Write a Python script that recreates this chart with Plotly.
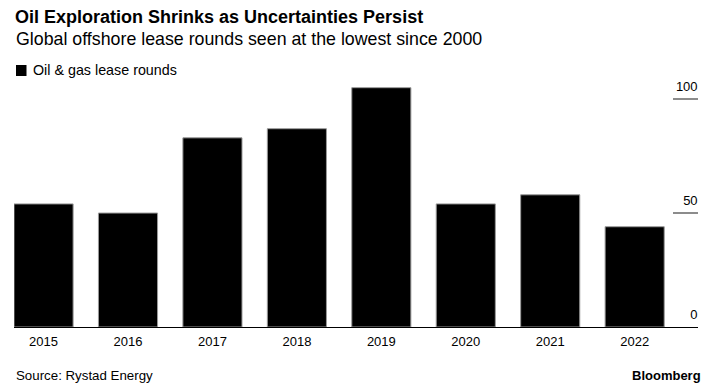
import plotly.graph_objects as go

years = ["2015", "2016", "2017", "2018", "2019", "2020", "2021", "2022"]
lease_rounds = [54, 50, 83, 87, 105, 54, 58, 44]
y_ticks = [0, 50, 100]
series_name = "Oil & gas lease rounds"

FONT = "Liberation Sans, Arial, sans-serif"

# The page body has an 8px margin; work in screen pixels and convert.
OFF = 8
W, H = 704, 376
L, R, T, B = 14 - OFF, W - (698 - OFF), 87 - OFF, H - (327 - OFF)
plot_w, plot_h = W - L - R, H - T - B


def px(sx):
    return (sx - OFF - L) / plot_w


def py(sy):
    return (H - B - (sy - OFF)) / plot_h


fig = go.Figure()
fig.add_trace(go.Bar(
    x=years, y=lease_rounds, name=series_name,
    marker=dict(color="#000000", line=dict(color="#9a9a9a", width=1)),
    width=0.70, showlegend=False,
))

fig.update_layout(
    width=W, height=H,
    margin=dict(l=L, r=R, t=T, b=B, autoexpand=False),
    paper_bgcolor="white", plot_bgcolor="white",
    font=dict(family=FONT, color="#000000", size=13),
    showlegend=False,
    xaxis=dict(
        type="category", range=[-0.35, 7.75],
        showline=True, linecolor="#000000", linewidth=1,
        ticks="", showgrid=False, zeroline=False,
        ticklabelstandoff=2,
        tickfont=dict(size=13, family=FONT, color="#000000"),
        layer="above traces",
    ),
    yaxis=dict(
        side="right", range=[0, 105.3],
        tickvals=y_ticks, ticktext=[str(v) for v in y_ticks],
        ticks="inside", ticklen=25, tickwidth=2, tickcolor="#8c8c8c",
        ticklabelposition="inside", ticklabeloverflow="allow",
        ticklabelstandoff=-25, ticklabelshift=-13,
        showgrid=False, zeroline=False, showline=False,
        tickfont=dict(size=13, family=FONT, color="#000000"),
    ),
)

fig.add_annotation(text="<b>Oil Exploration Shrinks as Uncertainties Persist</b>",
                   xref="paper", yref="paper", x=px(14), y=py(16.5), xanchor="left", yanchor="middle",
                   showarrow=False, borderpad=0,
                   font=dict(size=18, family=FONT, color="#000000"))
fig.add_annotation(text="Global offshore lease rounds seen at the lowest since 2000",
                   xref="paper", yref="paper", x=px(14), y=py(39), xanchor="left", yanchor="middle",
                   showarrow=False, font=dict(size=17.8, family=FONT, color="#000000"))

# legend: square + label
fig.add_shape(type="rect", xref="paper", yref="paper",
              x0=px(16), x1=px(26.5), y0=py(76), y1=py(65),
              fillcolor="#000000", line=dict(width=0))
fig.add_annotation(text=series_name,
                   xref="paper", yref="paper", x=px(31), y=py(70.5), xanchor="left", yanchor="middle",
                   showarrow=False, font=dict(size=14.3, family=FONT, color="#000000"))

fig.add_annotation(text="Source: Rystad Energy",
                   xref="paper", yref="paper", x=px(14), y=py(375.5), xanchor="left", yanchor="middle",
                   showarrow=False, font=dict(size=13.3, family=FONT, color="#000000"))
fig.add_annotation(text="<b>Bloomberg</b>",
                   xref="paper", yref="paper", x=px(703), y=py(375.5),
                   xanchor="right", yanchor="middle",
                   showarrow=False, font=dict(size=13, family=FONT, color="#000000"))

fig.write_html("out.html")
